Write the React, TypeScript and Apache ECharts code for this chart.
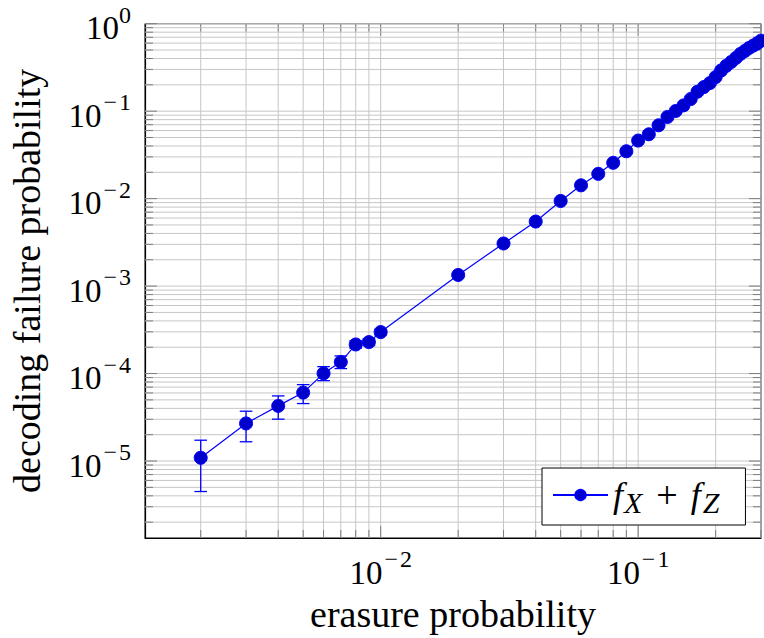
import React, { useEffect, useRef } from 'react';
import * as echarts from 'echarts';

const SERIES_NAME = 'fX + fZ';
const X_TITLE = 'erasure probability';
const Y_TITLE = 'decoding failure probability';

const erasureProb = [
  0.002, 0.003, 0.004, 0.005, 0.006, 0.007, 0.008, 0.009,
  0.01, 0.02, 0.03, 0.04, 0.05, 0.06, 0.07, 0.08, 0.09,
  0.10, 0.11, 0.12, 0.13, 0.14, 0.15, 0.16, 0.17, 0.18, 0.19,
  0.20, 0.21, 0.22, 0.23, 0.24, 0.25, 0.26, 0.27, 0.28, 0.29, 0.30,
];
const failureProb = [
  1.09e-5, 2.69e-5, 4.27e-5, 6.06e-5, 1.005e-4, 1.355e-4, 2.15e-4, 2.29e-4,
  2.98e-4, 1.34e-3, 3.07e-3, 5.47e-3, 9.4e-3, 1.42e-2, 1.92e-2, 2.57e-2, 3.48e-2,
  0.0461, 0.0544, 0.0689, 0.0859, 0.1005, 0.1164, 0.1377, 0.1668, 0.1887, 0.2096,
  0.2453, 0.2917, 0.330, 0.366, 0.407, 0.452, 0.489, 0.529, 0.562, 0.595, 0.640,
];

// error bars (lower / upper bounds) for the points where they are visible
const errorX = [0.002, 0.003, 0.004, 0.005, 0.006, 0.007, 0.008, 0.009, 0.01, 0.02, 0.03];
const errorLow = [4.48e-6, 1.66e-5, 3.01e-5, 4.54e-5, 8.3e-5, 1.14e-4, 1.95e-4, 2.09e-4, 2.77e-4, 1.30e-3, 3.01e-3];
const errorHigh = [1.73e-5, 3.71e-5, 5.55e-5, 7.47e-5, 1.2e-4, 1.59e-4, 2.37e-4, 2.50e-4, 3.20e-4, 1.38e-3, 3.13e-3];

const X_MIN = 0.0012152;
const X_MAX = 0.3;
const Y_MIN = 1.318e-6;
const Y_MAX = 1;

const FONT = '"Liberation Serif", "Times New Roman", serif';
const GRID_COLOR = '#c6c6c6';
const TICK_COLOR = '#7d7d7d';
const LINE_BLUE = '#0000ff';
const MARK_BLUE = '#0000cc';

const isPow10 = (v: number) => {
  const l = Math.log10(v);
  return Math.abs(l - Math.round(l)) < 1e-6;
};

const logGridValues = (lo: number, hi: number) => {
  const out: number[] = [];
  for (let e = Math.floor(Math.log10(lo)); e <= Math.ceil(Math.log10(hi)); e++) {
    for (let k = 1; k <= 9; k++) {
      const v = parseFloat((k * Math.pow(10, e)).toPrecision(6));
      if (v >= lo * 0.9999 && v <= hi * 1.0001) out.push(v);
    }
  }
  return out;
};

const powLabel = (v: number) => {
  if (!isPow10(v)) return '';
  const e = Math.round(Math.log10(v));
  return e < 0 ? `{b|10}{m|\u2212}{s|${Math.abs(e)}}` : `{b|10}{s|${e}}`;
};

const labelRich = {
  b: { fontFamily: FONT, fontSize: 33, color: '#000', lineHeight: 42, verticalAlign: 'bottom' },
  m: { fontFamily: FONT, fontSize: 24, color: '#000', lineHeight: 24, verticalAlign: 'top', padding: [0, 2, 0, 2] },
  s: { fontFamily: FONT, fontSize: 24, color: '#000', lineHeight: 24, verticalAlign: 'top' },
};

export default function App() {
  const ref = useRef<HTMLDivElement>(null);

  useEffect(() => {
    if (!ref.current) return;
    const chart = echarts.init(ref.current, undefined, { renderer: 'svg' });

    const xGrid = logGridValues(X_MIN, X_MAX);
    const yGrid = logGridValues(Y_MIN, Y_MAX);

    const option: any = {
      animation: false,
      grid: {
        left: 143.3,
        top: 23.7,
        right: -0.6,
        bottom: 98,
        show: true,
        borderColor: '#000',
        borderWidth: 1,
        backgroundColor: 'transparent',
      },
      legend: {
        data: [SERIES_NAME],
        left: 542,
        top: 468,
        padding: [8, 26, 8, 10],
        itemWidth: 55,
        itemHeight: 13,
        borderColor: '#000',
        borderWidth: 1,
        borderRadius: 0,
        backgroundColor: '#fff',
        selectedMode: false,
        formatter: () => '{f|f}{x|X}{p|+}{f|f}{z|Z}',
        textStyle: {
          fontFamily: FONT,
          color: '#000',
          rich: {
            f: { fontFamily: FONT, fontSize: 36, fontStyle: 'italic', color: '#000', lineHeight: 40 },
            p: { fontFamily: FONT, fontSize: 38, color: '#000', lineHeight: 40, padding: [0, 13, 0, 14] },
            x: { fontFamily: FONT, fontSize: 30, fontStyle: 'italic', color: '#000', lineHeight: 44, verticalAlign: 'bottom', padding: [0, 0, 0, 1] },
            z: { fontFamily: FONT, fontSize: 30, fontStyle: 'italic', color: '#000', lineHeight: 44, verticalAlign: 'bottom', padding: [0, 0, 0, 2] },
          },
        },
      },
      xAxis: {
        type: 'log',
        logBase: 10,
        min: X_MIN,
        max: X_MAX,
        name: X_TITLE,
        nameLocation: 'middle',
        nameGap: 57,
        nameTextStyle: { fontFamily: FONT, fontSize: 38, color: '#000' },
        axisLine: { show: true, onZero: false, lineStyle: { color: '#000', width: 1.2 } },
        axisTick: { show: false },
        splitLine: { show: false },
        axisLabel: { formatter: powLabel, margin: 9, rich: labelRich },
      },
      yAxis: {
        type: 'log',
        logBase: 10,
        min: Y_MIN,
        max: Y_MAX,
        name: Y_TITLE,
        nameLocation: 'middle',
        nameRotate: 90,
        nameGap: 99,
        nameTextStyle: { fontFamily: FONT, fontSize: 38, color: '#000' },
        axisLine: { show: true, onZero: false, lineStyle: { color: '#000', width: 1.2 } },
        axisTick: { show: false },
        splitLine: { show: false },
        axisLabel: { formatter: powLabel, margin: 14, align: 'right', rich: labelRich },
      },
      series: [
        {
          type: 'custom',
          name: 'xgrid',
          silent: true,
          z: 1,
          data: xGrid.map((v) => [v, 0.5]),
          encode: { x: 0, y: 1 },
          renderItem: (params: any, api: any) => {
            const v = api.value(0);
            const x = api.coord([v, 0.5])[0];
            const cs = params.coordSys;
            const len = isPow10(v) ? 12 : 8;
            const bottom = cs.y + cs.height;
            return {
              type: 'group',
              children: [
                { type: 'line', shape: { x1: x, y1: cs.y, x2: x, y2: bottom }, style: { stroke: GRID_COLOR, lineWidth: 1 } },
                { type: 'line', shape: { x1: x, y1: bottom, x2: x, y2: bottom - len }, style: { stroke: TICK_COLOR, lineWidth: 1 } },
                { type: 'line', shape: { x1: x, y1: cs.y, x2: x, y2: cs.y + len }, style: { stroke: TICK_COLOR, lineWidth: 1 } },
              ],
            };
          },
        },
        {
          type: 'custom',
          name: 'ygrid',
          silent: true,
          z: 1,
          data: yGrid.map((v) => [0.01, v]),
          encode: { x: 0, y: 1 },
          renderItem: (params: any, api: any) => {
            const v = api.value(1);
            const y = api.coord([0.01, v])[1];
            const cs = params.coordSys;
            const len = isPow10(v) ? 12 : 8;
            const right = cs.x + cs.width;
            return {
              type: 'group',
              children: [
                { type: 'line', shape: { x1: cs.x, y1: y, x2: right, y2: y }, style: { stroke: GRID_COLOR, lineWidth: 1 } },
                { type: 'line', shape: { x1: cs.x, y1: y, x2: cs.x + len, y2: y }, style: { stroke: TICK_COLOR, lineWidth: 1 } },
                { type: 'line', shape: { x1: right, y1: y, x2: right - len, y2: y }, style: { stroke: TICK_COLOR, lineWidth: 1 } },
              ],
            };
          },
        },
        {
          type: 'custom',
          name: 'errors',
          silent: true,
          z: 3,
          data: errorX.map((x, i) => [x, errorLow[i], errorHigh[i]]),
          encode: { x: 0, y: [1, 2] },
          renderItem: (params: any, api: any) => {
            const x = api.value(0);
            const lo = api.coord([x, api.value(1)]);
            const hi = api.coord([x, api.value(2)]);
            const cap = 6.3;
            const st = { stroke: LINE_BLUE, lineWidth: 1.3 };
            return {
              type: 'group',
              children: [
                { type: 'line', shape: { x1: lo[0], y1: lo[1], x2: hi[0], y2: hi[1] }, style: st },
                { type: 'line', shape: { x1: lo[0] - cap, y1: lo[1], x2: lo[0] + cap, y2: lo[1] }, style: st },
                { type: 'line', shape: { x1: hi[0] - cap, y1: hi[1], x2: hi[0] + cap, y2: hi[1] }, style: st },
              ],
            };
          },
        },
        {
          type: 'line',
          name: SERIES_NAME,
          z: 4,
          data: erasureProb.map((x, i) => [x, failureProb[i]]),
          symbol: 'circle',
          symbolSize: 13,
          lineStyle: { color: LINE_BLUE, width: 1.2 },
          itemStyle: { color: MARK_BLUE, borderColor: LINE_BLUE, borderWidth: 1 },
          emphasis: { disabled: true },
        },
      ],
    };

    chart.setOption(option);
    return () => chart.dispose();
  }, []);

  return (
    <div
      ref={ref}
      style={{ position: 'absolute', left: 0, top: 0, width: 764, height: 638, background: '#fff' }}
    />
  );
}
